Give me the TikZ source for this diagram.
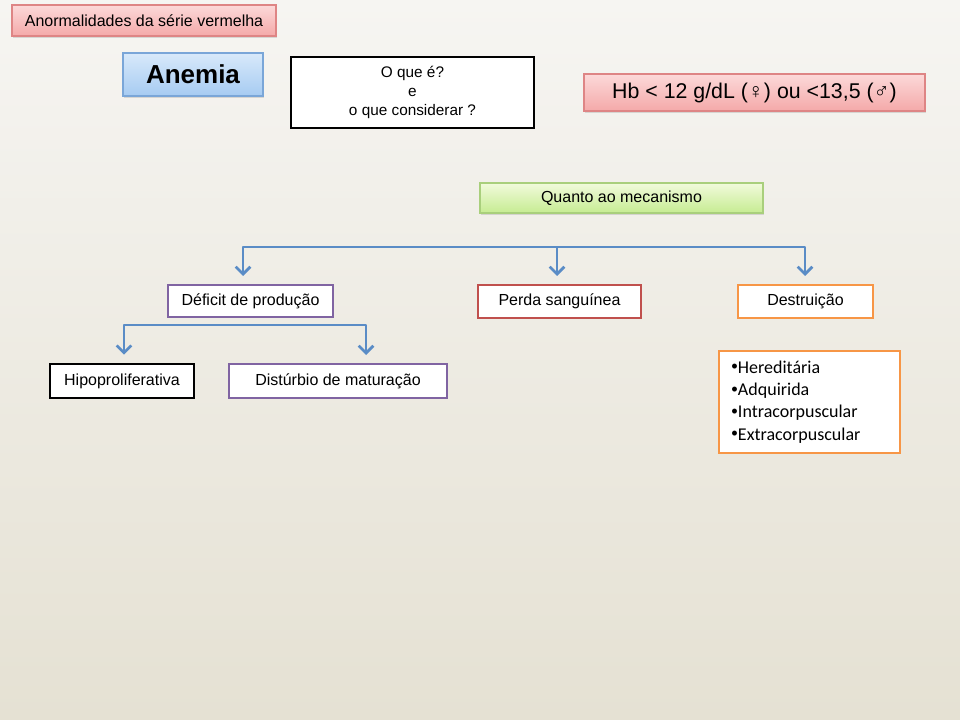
\documentclass[tikz,border=0pt]{standalone}
\usepackage{fontspec}
\setmainfont{Liberation Sans}
\newfontfamily\calib{Carlito}
\usepackage{tikz}
\usetikzlibrary{arrows.meta,shadows}

\definecolor{bgtop}{HTML}{F6F5F2}
\definecolor{bgbot}{HTML}{E5E1D3}
\definecolor{pinktop}{HTML}{FCD9D9}
\definecolor{pinkbot}{HTML}{F4A9A9}
\definecolor{pinkline}{HTML}{DE8585}
\definecolor{bluetop}{HTML}{D8E9FA}
\definecolor{bluebot}{HTML}{A6CBF2}
\definecolor{blueline}{HTML}{7AA6D8}
\definecolor{greentop}{HTML}{F1FADB}
\definecolor{greenbot}{HTML}{C6EC92}
\definecolor{greenline}{HTML}{A9CF7C}
\definecolor{linkblue}{HTML}{5A8CC6}
\definecolor{purp}{HTML}{8064A2}
\definecolor{redb}{HTML}{C0504D}
\definecolor{orng}{HTML}{F79646}

\newcommand{\bul}{\raisebox{0.13em}{\fontsize{10.5}{10}\selectfont•}}

\tikzset{
  barb/.tip={Straight Barb[length=5.5pt,width=11pt,line width=2pt]},
  box/.style={rectangle, inner sep=0pt, align=center, font=\fontsize{12}{14}\selectfont},
  soft/.style={box, draw=#1line, line width=0.9pt, top color=#1top, bottom color=#1bot,
               drop shadow={opacity=0.25, shadow xshift=0.8pt, shadow yshift=-1.5pt}},
  framed/.style={box, draw=#1, line width=1.5pt, fill=white},
  thick frame/.style={box, draw=black, line width=2.2pt, fill=white},
  link/.style={draw=linkblue, line width=2.2pt, line join=round, shorten >=6pt, shorten <=6pt}
}

\begin{document}
\begin{tikzpicture}[x=0.75pt,y=-0.75pt]
  \fill[top color=bgtop, bottom color=bgbot] (0,0) rectangle (960,720);
  \useasboundingbox (0,0) rectangle (960,720);

  \node[soft=pink, minimum width=198pt, minimum height=23.25pt]
  					   (titulo) at (144,20.5)   {Anormalidades da série vermelha};
  \node[soft=blue, minimum width=105pt, minimum height=32.25pt,
        font=\fontsize{19.5}{22}\selectfont\bfseries]
  					   (anemia) at (193,74.5)   {Anemia};
  \node[thick frame, minimum width=182.25pt, minimum height=53.25pt,
        font=\fontsize{11.5}{14.25}\selectfont]
  					   (oque)   at (412.5,92.5) {O que é?\\e\\o que considerar ?};
  \node[soft=pink, minimum width=255.75pt, minimum height=27.75pt,
        font=\fontsize{16}{18}\selectfont]
  					   (hb)     at (754.5,92.5) {Hb < 12 g/dL (♀) ou <13,5 (♂)};
  \node[soft=green, minimum width=212.25pt, minimum height=22.5pt]
  					   (quanto) at (621.5,198)  {Quanto ao mecanismo};

  \node[framed=purp, minimum width=123.75pt, minimum height=24pt]
  					   (defic)  at (250.5,301)  {Déficit de produção};
  \node[framed=redb, minimum width=122.25pt, minimum height=24.75pt]
  					   (perda)  at (559.5,301.5) {Perda sanguínea};
  \node[framed=orng, minimum width=101.25pt, minimum height=24.75pt]
  					   (destr)  at (805.5,301.5) {Destruição};

  \node[thick frame, line width=1.9pt, minimum width=108pt, minimum height=25.5pt]
  					   (hipo)   at (122,381)    {Hipoproliferativa};
  \node[framed=purp, minimum width=163.5pt, minimum height=25.5pt]
  					   (distur) at (338,381)    {Distúrbio de maturação};
  \node[framed=orng, minimum width=135.75pt, minimum height=76.5pt, inner xsep=9pt,
        text width=117.75pt, align=left, font=\calib\fontsize{13.5}{16.75}\selectfont]
  					   (lista)  at (809.5,402)  {\bul Hereditária\\\bul Adquirida\\\bul Intracorpuscular\\\bul Extracorpuscular};

  \coordinate (m1) at (243,247);
  \coordinate (m2) at (557,247);
  \coordinate (m3) at (805,247);
  \coordinate (d1) at (124,325);
  \coordinate (d2) at (366,325);

  \draw[link, barb-barb]
        (m1 |- defic.north) -- (m1) -- (m3) -- (m3 |- destr.north);
  \draw[link, -barb, shorten <=0pt] (m2) -- (m2 |- perda.north);
  \draw[link, barb-barb]
        (d1 |- hipo.north) -- (d1) -- (d2) -- (d2 |- distur.north);
\end{tikzpicture}
\end{document}
